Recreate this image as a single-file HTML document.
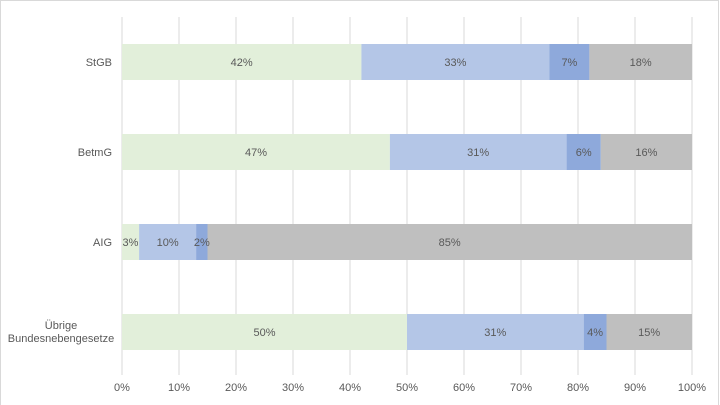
<!DOCTYPE html>
<html><head><meta charset="utf-8"><style>
html,body{margin:0;padding:0;background:#fff}
svg{display:block}
text{font-family:"Liberation Sans",sans-serif;font-size:11px;fill:#595959}
</style></head><body>
<svg width="720" height="405" xmlns="http://www.w3.org/2000/svg">
<rect x="0.5" y="0.5" width="718" height="410" fill="#fff" stroke="#D9D9D9"/>
<g stroke="#D9D9D9" stroke-width="1">
<line x1="122" y1="17" x2="122" y2="375"/><line x1="179" y1="17" x2="179" y2="375"/><line x1="236" y1="17" x2="236" y2="375"/><line x1="293" y1="17" x2="293" y2="375"/><line x1="350" y1="17" x2="350" y2="375"/><line x1="407" y1="17" x2="407" y2="375"/><line x1="464" y1="17" x2="464" y2="375"/><line x1="521" y1="17" x2="521" y2="375"/><line x1="578" y1="17" x2="578" y2="375"/><line x1="635" y1="17" x2="635" y2="375"/><line x1="692" y1="17" x2="692" y2="375"/>
</g>
<!-- StGB -->
<rect x="122" y="44" width="239.4" height="36" fill="#E2EFDA"/>
<rect x="361.4" y="44" width="188.1" height="36" fill="#B4C6E7"/>
<rect x="549.5" y="44" width="39.9" height="36" fill="#8EA9DB"/>
<rect x="589.4" y="44" width="102.6" height="36" fill="#BFBFBF"/>
<!-- BetmG -->
<rect x="122" y="134" width="267.9" height="36" fill="#E2EFDA"/>
<rect x="389.9" y="134" width="176.7" height="36" fill="#B4C6E7"/>
<rect x="566.6" y="134" width="34.2" height="36" fill="#8EA9DB"/>
<rect x="600.8" y="134" width="91.2" height="36" fill="#BFBFBF"/>
<!-- AIG -->
<rect x="122" y="224" width="17.1" height="36" fill="#E2EFDA"/>
<rect x="139.1" y="224" width="57" height="36" fill="#B4C6E7"/>
<rect x="196.1" y="224" width="11.4" height="36" fill="#8EA9DB"/>
<rect x="207.5" y="224" width="484.5" height="36" fill="#BFBFBF"/>
<!-- Übrige -->
<rect x="122" y="314" width="285" height="36" fill="#E2EFDA"/>
<rect x="407" y="314" width="176.7" height="36" fill="#B4C6E7"/>
<rect x="583.7" y="314" width="22.8" height="36" fill="#8EA9DB"/>
<rect x="606.5" y="314" width="85.5" height="36" fill="#BFBFBF"/>
<g text-anchor="middle">
<text x="241.7" y="66">42%</text><text x="455.4" y="66">33%</text><text x="569.4" y="66">7%</text><text x="640.7" y="66">18%</text>
<text x="256" y="156">47%</text><text x="478.2" y="156">31%</text><text x="583.7" y="156">6%</text><text x="646.4" y="156">16%</text>
<text x="130.5" y="246">3%</text><text x="167.6" y="246">10%</text><text x="201.8" y="246">2%</text><text x="449.7" y="246">85%</text>
<text x="264.5" y="336">50%</text><text x="495.3" y="336">31%</text><text x="595.1" y="336">4%</text><text x="649.2" y="336">15%</text>
<text x="122" y="391">0%</text><text x="179" y="391">10%</text><text x="236" y="391">20%</text><text x="293" y="391">30%</text><text x="350" y="391">40%</text><text x="407" y="391">50%</text><text x="464" y="391">60%</text><text x="521" y="391">70%</text><text x="578" y="391">80%</text><text x="635" y="391">90%</text><text x="692" y="391">100%</text>
</g>
<g text-anchor="end">
<text x="112" y="66">StGB</text>
<text x="112" y="156">BetmG</text>
<text x="112" y="246">AIG</text>
</g>
<g text-anchor="middle">
<text x="61" y="329">Übrige</text>
<text x="61" y="342">Bundesnebengesetze</text>
</g>
</svg>
</body></html>
